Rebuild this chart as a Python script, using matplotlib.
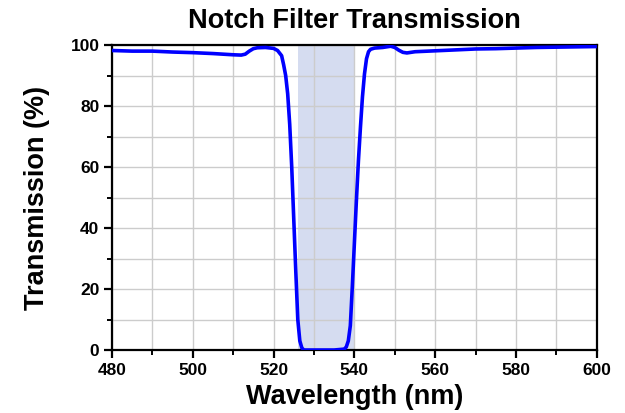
import matplotlib
matplotlib.use("Agg")
import matplotlib.pyplot as plt
from matplotlib.ticker import MultipleLocator

plt.rcParams['font.family'] = ['Liberation Sans', 'DejaVu Sans']
plt.rcParams['font.weight'] = 'bold'

# data
wavelength = [480, 485, 490, 495, 500, 505, 510, 512, 513, 514, 515, 516, 518, 520, 521, 522,
              522.5, 523, 523.5, 524, 524.5, 525, 525.5, 526, 526.5, 527, 527.5, 530, 535,
              537.5, 538, 538.5, 539, 539.5, 540, 540.5, 541, 541.5, 542, 542.5, 543, 543.5,
              544, 545, 547, 549, 550, 551, 552, 553, 555, 560, 565, 570, 575, 580, 585, 590,
              595, 600]
transmission = [98.2, 98.0, 98.0, 97.7, 97.5, 97.2, 96.8, 96.7, 97.0, 98.0, 98.8, 99.1, 99.2, 98.9, 98.2, 96.5,
                93.5, 90, 84, 74, 60, 43, 26, 10, 3, 0.7, 0, 0, 0,
                0.3, 1, 3, 8, 21, 35, 49, 62, 73, 83, 90.5, 95.5, 97.8,
                98.6, 99.0, 99.2, 99.6, 99.2, 98.3, 97.6, 97.4, 97.8, 98.1, 98.4, 98.7, 98.8, 99.0, 99.2, 99.3,
                99.4, 99.5]
notch_band = (526, 540)

fig = plt.figure(figsize=(6.25, 4.13), dpi=100)
ax = fig.add_axes([0.179, 0.1525, 0.776, 0.7385])

ax.axvspan(notch_band[0], notch_band[1], color='#d5dcf0', zorder=1, lw=0)
ax.plot(wavelength, transmission, color='#0000ff', lw=2.6, zorder=3, solid_capstyle='butt')

ax.set_xlim(480, 600)
ax.set_ylim(0, 100)
ax.xaxis.set_major_locator(MultipleLocator(20))
ax.xaxis.set_minor_locator(MultipleLocator(10))
ax.yaxis.set_major_locator(MultipleLocator(20))
ax.yaxis.set_minor_locator(MultipleLocator(10))
ax.set_axisbelow('line')
ax.grid(which='both', color='#cccccc', lw=1.0, zorder=2)

ax.tick_params(which='major', direction='out', length=6, width=1.6, labelsize=12.5, pad=3)
ax.tick_params(which='minor', direction='out', length=3.5, width=1.4)
for s in ax.spines.values():
    s.set_linewidth(1.6)
for lab in ax.get_xticklabels() + ax.get_yticklabels():
    lab.set_fontweight('bold')

ax.set_title("Notch Filter Transmission", fontsize=19.5, fontweight='bold', pad=12)
ax.set_xlabel("Wavelength (nm)", fontsize=19.5, fontweight='bold', labelpad=5)
ax.set_ylabel("Transmission (%)", fontsize=19.5, fontweight='bold', labelpad=15)

fig.savefig("out.png", dpi=100)
